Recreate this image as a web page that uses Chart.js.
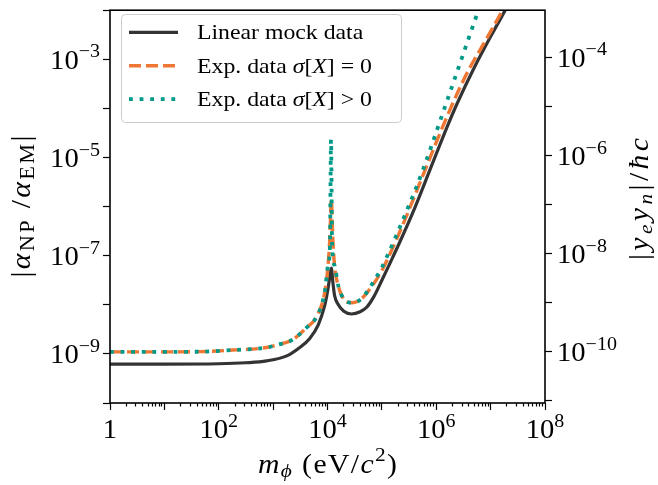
<!DOCTYPE html>
<html>
<head>
<meta charset="utf-8">
<script src="https://cdn.jsdelivr.net/npm/chart.js@4.4.1/dist/chart.umd.min.js"></script>
<style>
  html, body { margin: 0; padding: 0; background: #fff; }
</style>
</head>
<body>
<canvas id="boundChart" width="658" height="485"></canvas>
<script>
// Mediator mass m_phi (eV/c^2) and bound on |alpha_NP / alpha_EM|
const linearMass = [1, 10, 100, 316, 759, 1778, 3090, 4677, 6761, 8913, 10230, 10960, 11750, 12590, 13490,
  15850, 19950, 27540, 39810, 52480, 70790, 1e5, 141300, 213800, 398100, 794300, 1585000, 2399000, 5012000, 1e7, 19950000, 1e8];
const linearAlpha = [6.2e-10, 6.2e-10, 6.3e-10, 6.6e-10, 7.2e-10, 9.1e-10, 1.35e-9, 2.04e-9, 3.9e-9, 9.8e-9, 2.14e-8, 3.55e-8, 5.6e-8, 2.8e-8, 1.55e-8,
  1.0e-8, 7.4e-9, 6.5e-9, 7.2e-9, 8.9e-9, 1.45e-8, 3.16e-8, 7.1e-8, 1.9e-7, 9.1e-7, 6.2e-6, 4.2e-5, 1.23e-4, 6.8e-4, 2.9e-3, 1.15e-2, 0.29];

const expMass = [1, 10, 44.7, 182, 759, 1259, 2291, 4074, 6310, 8913, 10230, 11090, 11750, 12450, 13490,
  15850, 18620, 22390, 28180, 35480, 44670, 56230, 75860, 1e5, 141300, 199500, 281800, 398100, 631000, 1e6,
  1585000, 2512000, 3981000, 7943000, 15850000, 1e8];
const expAlpha = [1.1e-9, 1.1e-9, 1.11e-9, 1.2e-9, 1.35e-9, 1.55e-9, 1.95e-9, 3.4e-9, 5.75e-9, 1.82e-8, 6.3e-8, 2.5e-7, 1.41e-6, 2.5e-7, 6.3e-8,
  2.4e-8, 1.48e-8, 1.15e-8, 1.1e-8, 1.17e-8, 1.41e-8, 1.9e-8, 3.0e-8, 5.0e-8, 1.1e-7, 2.57e-7, 6.3e-7, 1.62e-6, 5.75e-6, 2.04e-5,
  6.9e-5, 2.19e-4, 6.2e-4, 2.34e-3, 9.1e-3, 0.355];

const expErrMass = [1, 10, 44.7, 182, 759, 1259, 2291, 4074, 6310, 8913, 10230, 11090, 11610, 12160, 13490,
  15850, 18620, 22390, 28180, 35480, 44670, 56230, 75860, 1e5, 141300, 199500, 281800, 398100, 562300, 794300,
  1259000, 1995000, 3162000, 5012000, 1e7];
const expErrAlpha = [1.1e-9, 1.1e-9, 1.11e-9, 1.2e-9, 1.35e-9, 1.55e-9, 1.95e-9, 3.4e-9, 5.75e-9, 1.82e-8, 6.3e-8, 1.58e-7, 2.3e-5, 1.58e-7, 6.3e-8,
  2.4e-8, 1.48e-8, 1.15e-8, 1.1e-8, 1.17e-8, 1.41e-8, 2.0e-8, 3.4e-8, 5.75e-8, 1.32e-7, 3.16e-7, 7.9e-7, 2.0e-6, 5.4e-6, 1.58e-5,
  6.9e-5, 3.0e-4, 1.32e-3, 5.75e-3, 5.2e-2];

// axis ranges and tick exponents
const xMin = 1, xMax = 1e8;
const yMin = 1e-10, yMax = 1e-2;
const couplingFactor = 9.1e-2;          // |y_e y_n|/hbar c = factor * |alpha_NP/alpha_EM|
const xLabelExp = [0, 2, 4, 6, 8];
const yLabelExp = [-9, -7, -5, -3];
const y2LabelExp = [-10, -8, -6, -4];

const seriesNames = ['Linear mock data', 'Exp. data', 'Exp. data'];
const colors = { linear: '#333333', exp: '#EE7733', expErr: '#009988' };

const SERIF = '"Liberation Serif", "Times New Roman", serif';
const STRETCH = 1.08;
const TICK_SIZE = 26.5, TITLE_SIZE = 27.5, LEGEND_SIZE = 22;

function toPoints(xs, ys) {
  return xs.map((x, i) => ({ x: x, y: ys[i] }));
}

function isDecade(v) {
  const l = Math.log10(v);
  return Math.abs(l - Math.round(l)) < 1e-9;
}

function decadeTicks(lo, hi) {
  const out = [];
  for (let e = Math.ceil(Math.log10(lo) - 1e-9); e <= Math.floor(Math.log10(hi) + 1e-9); e++) {
    out.push({ value: Math.pow(10, e) });
  }
  return out;
}

function massTicks() {
  const out = [];
  for (let e = 0; e < 8; e++) {
    for (let k = 1; k <= 9; k++) out.push({ value: k * Math.pow(10, e) });
  }
  out.push({ value: 1e8 });
  return out;
}

// --- small mathtext helper: runs are [text, italic, scale, rise] ---
function fontFor(size, italic) {
  return (italic ? 'italic ' : '') + size + 'px ' + SERIF;
}

// split runs into single glyphs so extra tracking can be spread between them
function glyphs(ctx, runs, size) {
  const out = [];
  runs.forEach(([t, it, sc, rise]) => {
    ctx.font = fontFor(size * (sc || 1), it);
    for (const ch of t) {
      out.push({ ch, font: ctx.font, w: ctx.measureText(ch).width, rise: (rise || 0) * size });
    }
  });
  return out;
}

// fitWidth (optional) spreads the text to a fixed length
function drawRuns(ctx, runs, x, y, size, align, fitWidth) {
  const gl = glyphs(ctx, runs, size);
  const nat = gl.reduce((s, g) => s + g.w, 0) * STRETCH;
  const track = fitWidth && gl.length > 1 ? (fitWidth - nat) / (gl.length - 1) : 0;
  const w = fitWidth || nat;
  let px = align === 'center' ? x - w / 2 : align === 'right' ? x - w : x;
  ctx.save();
  ctx.textAlign = 'left';
  ctx.textBaseline = 'alphabetic';
  gl.forEach(g => {
    ctx.save();
    ctx.font = g.font;
    ctx.translate(px, y - g.rise);
    ctx.scale(STRETCH, 1);
    ctx.fillText(g.ch, 0, 0);
    ctx.restore();
    px += g.w * STRETCH + track;
  });
  ctx.restore();
}

function powerRuns(e) {
  if (e === 0) return [['1']];
  const sup = e < 0 ? '\u2212' + (-e) : String(e);
  return [['10'], [sup, false, 0.7, 0.43]];
}

const xTitle = [['m', true], ['\u03D5', true, 0.72, -0.15], [' (eV/', false], ['c', true], ['2', false, 0.72, 0.42], [')', false]];
const yTitle = [['|', false], ['\u03B1', true], ['NP', false, 0.75, -0.15], [' /', false], ['\u03B1', true], ['EM', false, 0.75, -0.15], ['|', false]];
const y2Title = [['|', false], ['y', true], ['e', true, 0.72, -0.15], ['y', true], ['n', true, 0.72, -0.15], ['|/', false], ['\u0127c', true]];

const legendRows = [
  { runs: [[seriesNames[0], false]], color: colors.linear, dash: [], width: 3.2 },
  { runs: [[seriesNames[1] + ' ', false], ['\u03C3', true], ['[', false], ['X', true], ['] = 0', false]], color: colors.exp, dash: [12, 5], width: 3.4 },
  { runs: [[seriesNames[2] + ' ', false], ['\u03C3', true], ['[', false], ['X', true], ['] > 0', false]], color: colors.expErr, dash: [3.8, 6.8], width: 3.8 }
];

// frame, tick labels, axis titles and legend
const decorPlugin = {
  id: 'decor',
  afterDraw(chart) {
    const { ctx, chartArea: a, scales } = chart;
    ctx.save();
    ctx.strokeStyle = '#000';
    ctx.lineWidth = 1.6;
    ctx.strokeRect(a.left, a.top, a.right - a.left, a.bottom - a.top);

    ctx.fillStyle = '#000';
    xLabelExp.forEach(e => {
      drawRuns(ctx, powerRuns(e), scales.x.getPixelForValue(Math.pow(10, e)), a.bottom + 35, TICK_SIZE, 'center');
    });
    yLabelExp.forEach(e => {
      drawRuns(ctx, powerRuns(e), a.left - 10, scales.y.getPixelForValue(Math.pow(10, e)) + 9.5, TICK_SIZE, 'right');
    });
    y2LabelExp.forEach(e => {
      drawRuns(ctx, powerRuns(e), a.right + 12, scales.y2.getPixelForValue(Math.pow(10, e)) + 9.5, TICK_SIZE, 'left');
    });

    drawRuns(ctx, xTitle, (a.left + a.right) / 2, 473, TITLE_SIZE, 'center', 139);

    ctx.save();
    ctx.translate(30, (a.top + a.bottom) / 2);
    ctx.rotate(-Math.PI / 2);
    drawRuns(ctx, yTitle, 0, 0, TITLE_SIZE, 'center', 142);
    ctx.restore();

    ctx.save();
    ctx.translate(648, 199);
    ctx.rotate(-Math.PI / 2);
    drawRuns(ctx, y2Title, 0, 0, TITLE_SIZE, 'center', 122);
    ctx.restore();

    // legend box
    const bx = 121.5, by = 14.5, bw = 280, bh = 108, r = 4;
    ctx.beginPath();
    ctx.moveTo(bx + r, by);
    ctx.arcTo(bx + bw, by, bx + bw, by + bh, r);
    ctx.arcTo(bx + bw, by + bh, bx, by + bh, r);
    ctx.arcTo(bx, by + bh, bx, by, r);
    ctx.arcTo(bx, by, bx + bw, by, r);
    ctx.closePath();
    ctx.fillStyle = 'rgba(255,255,255,0.8)';
    ctx.fill();
    ctx.strokeStyle = '#cccccc';
    ctx.lineWidth = 1;
    ctx.stroke();

    legendRows.forEach((row, i) => {
      const ly = 32.3 + i * 33.4;
      ctx.beginPath();
      ctx.setLineDash(row.dash);
      ctx.lineCap = 'butt';
      ctx.strokeStyle = row.color;
      ctx.lineWidth = row.width;
      ctx.moveTo(129, ly);
      ctx.lineTo(178, ly);
      ctx.stroke();
      ctx.setLineDash([]);
      ctx.fillStyle = '#000';
      drawRuns(ctx, row.runs, 197, ly + 7, LEGEND_SIZE, 'left');
    });
    ctx.restore();
  }
};

const tickGrid = {
  drawOnChartArea: false,
  drawTicks: true,
  tickLength: 7,
  tickColor: '#000',
  tickWidth: 1.2
};

new Chart(document.getElementById('boundChart'), {
  type: 'line',
  data: {
    datasets: [
      {
        label: seriesNames[0],
        data: toPoints(linearMass, linearAlpha),
        borderColor: colors.linear,
        borderWidth: 3.2,
        order: 3
      },
      {
        label: seriesNames[1],
        data: toPoints(expMass, expAlpha),
        borderColor: colors.exp,
        borderWidth: 3.4,
        borderDash: [12, 5],
        order: 2
      },
      {
        label: seriesNames[2],
        data: toPoints(expErrMass, expErrAlpha),
        borderColor: colors.expErr,
        borderWidth: 3.8,
        borderDash: [3.8, 6.8],
        order: 1
      }
    ]
  },
  options: {
    responsive: false,
    animation: false,
    devicePixelRatio: 1,
    elements: {
      point: { radius: 0 },
      line: { cubicInterpolationMode: 'monotone', fill: false, borderCapStyle: 'butt' }
    },
    layout: { padding: { top: 3, left: 0, right: 0, bottom: 0 } },
    plugins: {
      legend: { display: false },
      tooltip: { enabled: false }
    },
    scales: {
      x: {
        type: 'logarithmic',
        position: 'bottom',
        min: xMin,
        max: xMax,
        afterBuildTicks: (scale) => { scale.ticks = massTicks(); },
        afterFit: (scale) => { scale.height = 82; },
        border: { display: false },
        grid: Object.assign({}, tickGrid, {
          tickBorderDash: (c) => (c.tick && !isDecade(c.tick.value) ? [3.5, 40] : [])
        }),
        ticks: { autoSkip: false, maxRotation: 0, callback: () => '' }
      },
      y: {
        type: 'logarithmic',
        position: 'left',
        min: yMin,
        max: yMax,
        afterBuildTicks: (scale) => { scale.ticks = decadeTicks(yMin, yMax); },
        afterFit: (scale) => { scale.width = 110; },
        border: { display: false },
        grid: tickGrid,
        ticks: { autoSkip: false, callback: () => '' }
      },
      y2: {
        type: 'logarithmic',
        position: 'right',
        min: yMin * couplingFactor,
        max: yMax * couplingFactor,
        afterBuildTicks: (scale) => { scale.ticks = decadeTicks(yMin * couplingFactor, yMax * couplingFactor); },
        afterFit: (scale) => { scale.width = 113; },
        border: { display: false },
        grid: tickGrid,
        ticks: { autoSkip: false, callback: () => '' }
      }
    }
  },
  plugins: [decorPlugin]
});
</script>
</body>
</html>
